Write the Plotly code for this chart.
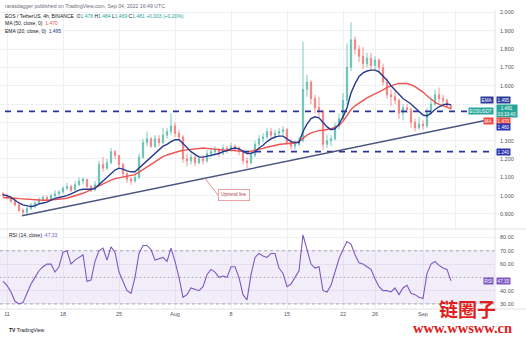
import plotly.graph_objects as go
import pandas as pd

W, H = 526, 337

# ---------------- data (12h candles) ----------------
candle_start = "2022-07-10 12:00"
first_open = 1.01
closes = [1.00, 0.99, 0.97, 0.95, 0.92, 0.91, 0.93, 0.95, 0.96, 0.98,
          0.99, 0.98, 1.00, 1.01, 1.02, 1.04, 1.05, 1.03, 1.06, 1.08,
          1.09, 1.05, 1.03, 1.06, 1.17, 1.15, 1.18, 1.24, 1.22, 1.17,
          1.12, 1.09, 1.08, 1.10, 1.21, 1.29, 1.31, 1.27, 1.31, 1.29,
          1.33, 1.35, 1.38, 1.34, 1.32, 1.20, 1.19, 1.21, 1.18, 1.20,
          1.19, 1.23, 1.24, 1.25, 1.23, 1.26, 1.25, 1.27, 1.26, 1.24,
          1.19, 1.18, 1.22, 1.28, 1.31, 1.32, 1.35, 1.33, 1.34, 1.35,
          1.36, 1.29, 1.27, 1.28, 1.30, 1.58, 1.62, 1.53, 1.48, 1.46,
          1.28, 1.30, 1.31, 1.38, 1.42, 1.52, 1.70, 1.85, 1.80, 1.76,
          1.72, 1.75, 1.71, 1.74, 1.70, 1.62, 1.55, 1.54, 1.52, 1.45,
          1.48, 1.47, 1.40, 1.37, 1.39, 1.38, 1.45, 1.50, 1.55, 1.53,
          1.52, 1.49, 1.481]
highs = [1.02, 1.01, 1.00, 0.98, 0.96, 0.93, 0.94, 0.96, 0.97, 0.99,
         1.00, 1.00, 1.01, 1.03, 1.03, 1.05, 1.07, 1.06, 1.08, 1.10,
         1.10, 1.09, 1.06, 1.08, 1.19, 1.21, 1.20, 1.26, 1.25, 1.22,
         1.18, 1.13, 1.10, 1.12, 1.23, 1.31, 1.35, 1.32, 1.33, 1.33,
         1.37, 1.37, 1.45, 1.40, 1.36, 1.33, 1.23, 1.23, 1.22, 1.22,
         1.22, 1.25, 1.26, 1.27, 1.26, 1.28, 1.27, 1.29, 1.28, 1.27,
         1.25, 1.21, 1.24, 1.30, 1.33, 1.34, 1.37, 1.37, 1.36, 1.37,
         1.38, 1.37, 1.31, 1.30, 1.32, 1.84, 1.66, 1.63, 1.55, 1.54,
         1.47, 1.33, 1.33, 1.40, 1.45, 1.56, 1.83, 1.945, 1.87, 1.82,
         1.81, 1.78, 1.78, 1.76, 1.75, 1.72, 1.64, 1.58, 1.57, 1.53,
         1.50, 1.50, 1.48, 1.42, 1.43, 1.41, 1.48, 1.53, 1.58, 1.59,
         1.55, 1.53, 1.50]
lows = [0.99, 0.98, 0.96, 0.94, 0.91, 0.89, 0.90, 0.92, 0.93, 0.95,
        0.97, 0.97, 0.97, 0.99, 1.00, 1.01, 1.03, 1.02, 1.03, 1.05,
        1.06, 1.04, 1.02, 1.03, 1.05, 1.13, 1.14, 1.17, 1.20, 1.15,
        1.10, 1.07, 1.06, 1.07, 1.09, 1.20, 1.27, 1.26, 1.26, 1.27,
        1.28, 1.31, 1.33, 1.32, 1.30, 1.18, 1.16, 1.17, 1.16, 1.17,
        1.17, 1.18, 1.21, 1.22, 1.21, 1.22, 1.23, 1.24, 1.24, 1.22,
        1.17, 1.15, 1.17, 1.21, 1.27, 1.29, 1.31, 1.31, 1.31, 1.32,
        1.33, 1.28, 1.25, 1.25, 1.27, 1.29, 1.54, 1.50, 1.45, 1.43,
        1.25, 1.26, 1.27, 1.30, 1.36, 1.41, 1.50, 1.68, 1.77, 1.73,
        1.69, 1.70, 1.68, 1.68, 1.67, 1.60, 1.53, 1.49, 1.50, 1.42,
        1.41, 1.45, 1.37, 1.35, 1.36, 1.36, 1.37, 1.44, 1.49, 1.51,
        1.49, 1.48, 1.469]
ema20 = [1.005, 1.00, 0.99, 0.975, 0.96, 0.95, 0.945, 0.94, 0.945, 0.955,
         0.96, 0.965, 0.975, 0.985, 0.99, 0.995, 1.00, 1.01, 1.02, 1.03,
         1.035, 1.035, 1.035, 1.04, 1.06, 1.08, 1.10, 1.125, 1.14, 1.15,
         1.145, 1.135, 1.13, 1.13, 1.15, 1.175, 1.195, 1.215, 1.235, 1.255,
         1.27, 1.28, 1.295, 1.305, 1.305, 1.285, 1.26, 1.24, 1.225, 1.21,
         1.21, 1.215, 1.22, 1.225, 1.23, 1.24, 1.245, 1.255, 1.26, 1.255,
         1.24, 1.23, 1.23, 1.24, 1.26, 1.275, 1.295, 1.31, 1.32, 1.325,
         1.325, 1.31, 1.295, 1.29, 1.29, 1.35, 1.39, 1.42, 1.43, 1.425,
         1.40, 1.375, 1.36, 1.365, 1.39, 1.43, 1.48, 1.56, 1.61, 1.65,
         1.67, 1.68, 1.685, 1.685, 1.675, 1.655, 1.63, 1.60, 1.575, 1.55,
         1.53, 1.515, 1.50, 1.48, 1.46, 1.44, 1.435, 1.45, 1.47, 1.485,
         1.495, 1.50, 1.495]
ma50 = [0.99, 0.99, 0.988, 0.986, 0.984, 0.982, 0.98, 0.978, 0.976, 0.975,
        0.975, 0.975, 0.976, 0.978, 0.98, 0.983, 0.986, 0.992, 0.998, 1.005,
        1.013, 1.022, 1.033, 1.045, 1.056, 1.065, 1.075, 1.085, 1.093, 1.098,
        1.102, 1.106, 1.109, 1.115, 1.128, 1.142, 1.156, 1.172, 1.188, 1.202,
        1.213, 1.222, 1.23, 1.236, 1.242, 1.247, 1.25, 1.255, 1.258, 1.26,
        1.26, 1.258, 1.255, 1.252, 1.25, 1.249, 1.248, 1.248, 1.246, 1.243,
        1.24, 1.24, 1.242, 1.246, 1.252, 1.258, 1.264, 1.27, 1.275, 1.279,
        1.282, 1.284, 1.285, 1.287, 1.295, 1.315, 1.33, 1.343, 1.35, 1.355,
        1.357, 1.36, 1.365, 1.372, 1.383, 1.405, 1.44, 1.47, 1.49, 1.505,
        1.52, 1.533, 1.545, 1.555, 1.565, 1.577, 1.59, 1.60, 1.607, 1.612,
        1.614, 1.612, 1.605, 1.595, 1.58, 1.565, 1.545, 1.525, 1.51, 1.498,
        1.49, 1.482, 1.475]
rsi14 = [47, 44, 39, 32, 30, 31, 38, 45, 50, 55,
         58, 60, 60, 54, 58, 69, 70, 60, 63, 65,
         67, 47, 48, 62, 70, 72, 63, 73, 69, 54,
         47, 40, 38, 50, 68, 74, 74, 71, 63, 64,
         65, 62, 72, 62, 50, 35, 37, 42, 41, 40,
         43, 52, 56, 54, 50, 51, 50, 58, 58, 50,
         37, 33, 52, 65, 68, 66, 65, 68, 68, 57,
         53, 43, 45, 50, 55, 82, 70, 60, 57, 58,
         40, 39, 44, 55, 64, 71, 77, 75, 67, 61,
         60, 58, 56, 49, 43, 40, 40, 39, 42, 37,
         42, 44, 38, 37, 35, 34, 53, 60, 62, 59,
         57, 56, 47.33]

x_tick_dates = ["2022-07-11", "2022-07-18", "2022-07-25", "2022-08-01", "2022-08-08",
                "2022-08-15", "2022-08-22", "2022-08-26", "2022-09-01"]
x_tick_labels = ["11", "18", "25", "Aug", "8", "15", "22", "26", "Sep"]
price_ticks = [0.9, 1.0, 1.1, 1.2, 1.3, 1.4, 1.5, 1.6, 1.7, 1.8, 1.9, 2.0]
price_hidden = [1.4, 1.5]          # covered by the value boxes in the reference
rsi_ticks = [30, 40, 50, 60, 70, 80]
rsi_hidden = [50]

level_prices = [1.46, 1.24]
level_starts = ["2022-07-10 18:00", "2022-08-09 12:00"]
trend_dates = ["2022-07-12 21:00", "2022-09-08 18:00"]
trend_prices = [0.89, 1.41]

last_close, last_ema, last_ma, last_rsi = 1.481, 1.495, 1.470, 47.33

# ---------------- figure ----------------
times = pd.date_range(candle_start, periods=len(closes), freq="12h")
opens = [first_open] + closes[:-1]
x_range = ["2022-07-10 03:00", "2022-09-10 00:00"]

XR = 495 / W          # right edge of panes (paper)
P_TOP, P_BOT = 1 - 10 / H, 1 - 229 / H
R_TOP, R_BOT = 1 - 229 / H, 1 - 309 / H

UP, DN = "#26a69a", "#ef5350"
EMA_C, MA_C, LVL_C, TR_C, RSI_C = "#283a8f", "#ef5350", "#2b3596", "#4b5780", "#7e57c2"
FONT = "Liberation Sans"

fig = go.Figure()
fig.add_trace(go.Candlestick(
    x=times, open=opens, high=highs, low=lows, close=closes,
    increasing=dict(line=dict(color="#5cbcb1", width=0.8), fillcolor="#6cc3b8"),
    decreasing=dict(line=dict(color="#f07a78", width=0.8), fillcolor="#f2837f"),
    xaxis="x", yaxis="y", showlegend=False))
fig.add_trace(go.Scatter(x=times, y=ma50, mode="lines", line=dict(color=MA_C, width=1.4),
                         xaxis="x", yaxis="y", showlegend=False))
fig.add_trace(go.Scatter(x=times, y=ema20, mode="lines", line=dict(color=EMA_C, width=1.4),
                         xaxis="x", yaxis="y", showlegend=False))
for p, s in zip(level_prices, level_starts):
    fig.add_trace(go.Scatter(x=[s, x_range[1]], y=[p, p], mode="lines",
                             line=dict(color=LVL_C, width=1.8, dash="6px,6px"),
                             xaxis="x", yaxis="y", showlegend=False))
fig.add_trace(go.Scatter(x=trend_dates, y=trend_prices, mode="lines",
                         line=dict(color=TR_C, width=1.5), xaxis="x", yaxis="y", showlegend=False))

# RSI pane
fig.add_trace(go.Scatter(x=[x_range[0], x_range[1], x_range[1], x_range[0]], y=[30, 30, 70, 70],
                         fill="toself", fillcolor="rgba(126,87,194,0.10)", line=dict(width=0),
                         mode="lines", xaxis="x2", yaxis="y2", showlegend=False))
for lv, dsh in [(70, "3px,3px"), (50, "1px,3px"), (30, "3px,3px")]:
    fig.add_trace(go.Scatter(x=x_range, y=[lv, lv], mode="lines",
                             line=dict(color="#9598a1", width=0.8, dash=dsh),
                             xaxis="x2", yaxis="y2", showlegend=False))
fig.add_trace(go.Scatter(x=times, y=rsi14, mode="lines", line=dict(color=RSI_C, width=1.1),
                         xaxis="x2", yaxis="y2", showlegend=False))

grid = "#eef0f4"
tickfont = dict(family=FONT, size=5.5, color="#50535e")
fig.update_layout(
    width=W, height=H, margin=dict(l=0, r=0, t=0, b=0), autosize=False,
    paper_bgcolor="white", plot_bgcolor="white", boxgap=0.55,
    xaxis=dict(domain=[0, XR], anchor="y", range=x_range, rangeslider=dict(visible=False),
               tickvals=x_tick_dates + ["2022-09-05"], showticklabels=False, ticks="",
               showgrid=True, gridcolor=grid, gridwidth=0.8, zeroline=False),
    xaxis2=dict(domain=[0, XR], anchor="y2", range=x_range, matches="x",
                tickvals=x_tick_dates, ticktext=x_tick_labels, ticks="",
                tickfont=tickfont, showgrid=True, gridcolor=grid, gridwidth=0.8, zeroline=False),
    yaxis=dict(domain=[P_BOT, P_TOP], anchor="x", side="right", range=[0.818, 2.013],
               tickvals=price_ticks,
               ticktext=["" if v in price_hidden else f"{v:.3f}" for v in price_ticks],
               tickfont=tickfont, ticks="", ticklabelstandoff=4,
               showgrid=True, gridcolor=grid, gridwidth=0.8, zeroline=False),
    yaxis2=dict(domain=[R_BOT, R_TOP], anchor="x2", side="right", range=[26.2, 86.4],
                tickvals=rsi_ticks,
                ticktext=["" if v in rsi_hidden else f"{v:.2f}" for v in rsi_ticks],
                tickfont=tickfont, ticks="", ticklabelstandoff=4,
                showgrid=True, gridcolor=grid, gridwidth=0.8, zeroline=False),
    showlegend=False,
)

shapes = []
for y0 in [1 - 229 / H, 1 - 309 / H]:
    shapes.append(dict(type="line", xref="paper", yref="paper", x0=0, x1=1, y0=y0, y1=y0,
                       line=dict(color="#e0e3eb", width=1)))
shapes.append(dict(type="line", xref="paper", yref="paper", x0=XR, x1=XR, y0=1 - 309 / H, y1=1 - 10 / H,
                   line=dict(color="#e0e3eb", width=1)))
fig.update_layout(shapes=shapes)


def px(x, y):
    return x / W, 1 - y / H


ann = []


def text(x, y, s, size=5, color="#50535e", anchor="left", family=FONT, **kw):
    X, Y = px(x, y)
    ann.append(dict(x=X, y=Y, xref="paper", yref="paper", text=s, showarrow=False,
                    xanchor=anchor, yanchor="middle", font=dict(family=family, size=size, color=color), **kw))


text(3, 6, "rarasdagger published on TradingView.com, Sep 04, 2022 16:49 UTC", size=5.2, color="#6a6d78")
g = f"<span style='color:{UP}'>"
text(3, 16, "EOS / TetherUS, 4h, BINANCE  O" + g + "1.478</span> H" + g + "1.484</span> L" + g +
     "1.469</span> C" + g + "1.481</span> " + g + "+0.003 (+0.20%)</span>", size=5, color="#131722")
text(3, 23.3, f"MA (50, close, 0)  <span style='color:{MA_C}'>{last_ma:.3f}</span>", size=5, color="#131722")
text(3, 30.7, f"EMA (20, close, 0)  <span style='color:{EMA_C}'>{last_ema:.3f}</span>", size=5, color="#131722")
text(7, 234.5, f"RSI (14, close)  <span style='color:{RSI_C}'>{last_rsi:.2f}</span>", size=5, color="#131722")
text(7, 330, "<b>TV</b> TradingView", size=5, color="#131722")


def tag(yval, yref, label, value, color, shift):
    # name tag inside pane and value box on the scale
    if label:
        ann.append(dict(x=494 / W, y=yval, xref="paper", yref=yref, text=label, showarrow=False,
                        xanchor="right", yanchor="middle", yshift=shift, bgcolor=color,
                        font=dict(family=FONT, size=4.6, color="white"), borderpad=0.6))
    ann.append(dict(x=495.5 / W, y=yval, xref="paper", yref=yref, text=value, showarrow=False,
                    xanchor="left", yanchor="middle", yshift=shift, bgcolor=color,
                    font=dict(family=FONT, size=4.6, color="white"), borderpad=0.6))


tag(last_ema, "y", "EMA", f"{last_ema:.3f}", "#2a3a9a", 5)
tag(last_close, "y", "EOSUSDT", f"{last_close:.3f}<br>03:10:40", UP, -3)
tag(last_ma, "y", "MA", f"{last_ma:.3f}", "#f0483e", -11.5)
tag(level_prices[0], "y", "", f"{level_prices[0]:.3f}", "#2934b0", -16)
tag(level_prices[1], "y", "", f"{level_prices[1]:.3f}", "#2934b0", 0)
tag(last_rsi, "y2", "RSI", f"{last_rsi:.2f}", RSI_C, 0)

# Uptrend callout
ann.append(dict(x="2022-08-04 18:00", y=1.095, xref="x", yref="y", ax=13, ay=17, axref="pixel", ayref="pixel",
                text="Uptrend line", showarrow=True, arrowhead=0, arrowwidth=0.8, arrowcolor="#e57373",
                bgcolor="white", bordercolor="#e88c8c", borderwidth=0.8, borderpad=2.5,
                font=dict(family=FONT, size=4.6, color="#b03a3a"), xanchor="left", yanchor="middle"))

# watermark
text(437, 308, "<b>链圈子</b>", size=19, color="#e0201b", family="Noto Sans CJK SC")
text(411, 328, "<b>www.wwsww.cn</b>", size=14.5, color="#e0201b", family="Liberation Serif")

fig.update_layout(annotations=ann)
fig.write_html("out.html")
